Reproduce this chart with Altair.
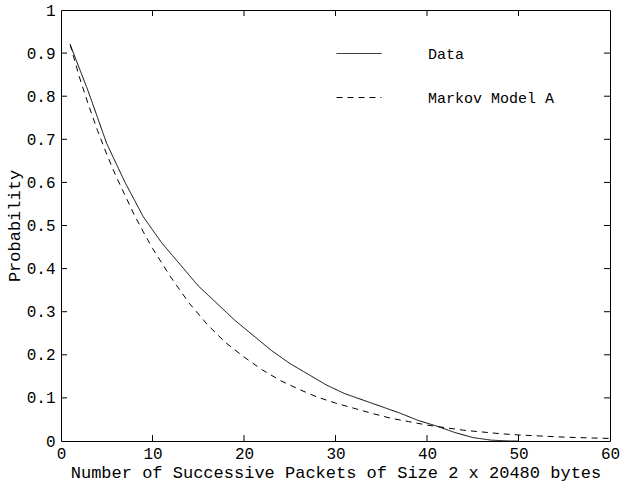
import altair as alt
import pandas as pd

# Observed "Data" curve
data_x = [1, 3, 5, 7, 9, 11, 13, 15, 17, 19, 21, 23, 25, 27, 29, 31, 33, 35, 37, 39, 41, 43, 45, 47, 49, 50]
data_y = [0.92, 0.81, 0.69, 0.60, 0.52, 0.46, 0.41, 0.36, 0.32, 0.28, 0.245, 0.21, 0.18, 0.155, 0.13,
          0.11, 0.095, 0.08, 0.065, 0.048, 0.035, 0.02, 0.008, 0.002, 0.0, 0.0]

# Markov Model A curve
model_x = [1, 2, 3, 4, 5, 6, 7, 8, 9, 10, 12, 14, 16, 18, 20, 22, 24, 26, 28, 30, 32, 34, 36, 38,
           40, 42, 44, 46, 48, 50, 52, 55, 58, 60]
model_y = [0.92, 0.845, 0.78, 0.72, 0.665, 0.615, 0.57, 0.525, 0.485, 0.447, 0.38, 0.32, 0.27, 0.228,
           0.195, 0.165, 0.14, 0.12, 0.102, 0.088, 0.076, 0.064, 0.053, 0.045, 0.037, 0.031, 0.025,
           0.021, 0.017, 0.014, 0.012, 0.009, 0.007, 0.006]

series_names = ["Data", "Markov Model A"]
x_ticks = [0, 10, 20, 30, 40, 50, 60]
y_ticks = [0, 0.1, 0.2, 0.3, 0.4, 0.5, 0.6, 0.7, 0.8, 0.9, 1]
x_inner = [10, 20, 30, 40, 50]
y_inner = [0.1, 0.2, 0.3, 0.4, 0.5, 0.6, 0.7, 0.8, 0.9]

df = pd.concat([
    pd.DataFrame({"x": data_x, "y": data_y, "series": series_names[0]}),
    pd.DataFrame({"x": model_x, "y": model_y, "series": series_names[1]}),
])
xt_df = pd.DataFrame({"x": x_inner})
yt_df = pd.DataFrame({"y": y_inner})

FONT = "Liberation Mono"
xs = alt.Scale(domain=[0, 60], nice=False, zero=False)
ys = alt.Scale(domain=[0, 1], nice=False, zero=False)

main_x_axis = alt.Axis(
    values=x_ticks, title="Number of Successive Packets of Size 2 x 20480 bytes",
    ticks=False, tickSize=0, domain=False, grid=False, labelPadding=4, titlePadding=3,
    labelFont=FONT, titleFont=FONT, labelFontSize=16, titleFontSize=17,
    labelColor="black", titleColor="black", titleFontWeight="normal", labelFlush=False,
)
main_y_axis = alt.Axis(
    values=y_ticks, title="Probability", format="~g",
    ticks=False, tickSize=0, domain=False, grid=False, labelPadding=6, titlePadding=3,
    labelFont=FONT, titleFont=FONT, labelFontSize=16, titleFontSize=17,
    labelColor="black", titleColor="black", titleFontWeight="normal", labelFlush=False,
)

lines = alt.Chart(df).mark_line(color="black", strokeWidth=1).encode(
    x=alt.X("x:Q", scale=xs, axis=main_x_axis),
    y=alt.Y("y:Q", scale=ys, axis=main_y_axis),
    strokeDash=alt.StrokeDash(
        "series:N",
        scale=alt.Scale(domain=series_names, range=[[1, 0], [6, 5]]),
        legend=alt.Legend(
            title=None, orient="none", legendX=275, legendY=20.5, padding=0,
            symbolType="stroke", symbolSize=2025, symbolStrokeWidth=1,
            symbolStrokeColor="black", labelOffset=46, rowPadding=13,
            labelFont=FONT, labelFontSize=15, labelColor="black", labelLimit=300,
        ),
    ),
    detail="series:N",
)

TL = 6  # inward tick length
tick_style = dict(color="black", thickness=1, size=TL, opacity=1)

ticks_bottom = alt.Chart(xt_df).mark_tick(orient="vertical", **tick_style).encode(
    x=alt.X("x:Q", scale=xs), y=alt.datum(0, scale=ys), yOffset=alt.value(-TL / 2))
ticks_top = alt.Chart(xt_df).mark_tick(orient="vertical", **tick_style).encode(
    x=alt.X("x:Q", scale=xs), y=alt.datum(1, scale=ys), yOffset=alt.value(TL / 2))
ticks_left = alt.Chart(yt_df).mark_tick(orient="horizontal", **tick_style).encode(
    y=alt.Y("y:Q", scale=ys), x=alt.datum(0, scale=xs), xOffset=alt.value(TL / 2))
ticks_right = alt.Chart(yt_df).mark_tick(orient="horizontal", **tick_style).encode(
    y=alt.Y("y:Q", scale=ys), x=alt.datum(60, scale=xs), xOffset=alt.value(-TL / 2))

chart = alt.layer(lines, ticks_bottom, ticks_top, ticks_left, ticks_right).properties(
    width=549, height=431,
    autosize=alt.AutoSizeParams(type="none"),
    padding={"left": 61, "top": 10, "right": 10, "bottom": 45},
    background="white",
).configure_view(stroke="black", strokeWidth=1)

chart.save("out.html", embed_options={"renderer": "svg", "actions": False})
